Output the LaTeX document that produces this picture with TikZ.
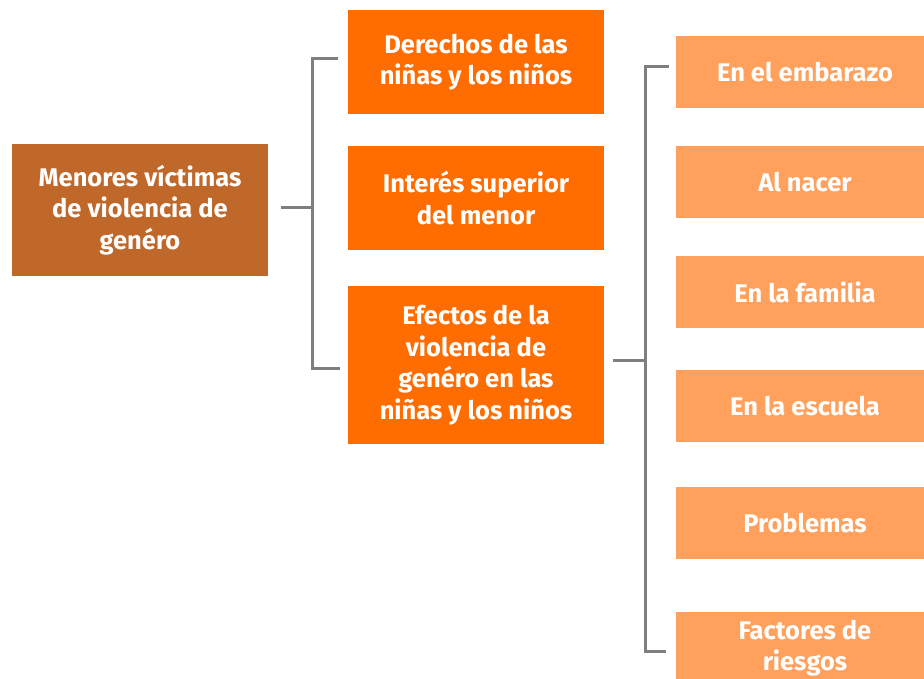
\documentclass[tikz,border=0pt]{standalone}
\usepackage{fontspec}
\setmainfont{Fira Sans}
\usepackage{tikz}
\usetikzlibrary{positioning}
\definecolor{rootbrown}{HTML}{C0672A}
\definecolor{midorange}{HTML}{FF6C00}
\definecolor{leaforange}{HTML}{FFA05C}
\definecolor{linkgray}{HTML}{7F7F7F}

\begin{document}
\begin{tikzpicture}[x=1pt, y=-1pt,
  font=\fontsize{25.5}{31.5}\selectfont\bfseries,
  box/.style={text=white, align=center, inner sep=0pt},
  rootbox/.style={box, fill=rootbrown, minimum width=256pt, minimum height=132pt},
  midbox/.style={box, fill=midorange, minimum width=256pt, minimum height=104pt},
  leafbox/.style={box, fill=leaforange, minimum width=258pt, minimum height=72pt},
  link/.style={draw=linkgray, line width=3pt}]
  \useasboundingbox (0,0) rectangle (924,679);
  \def\colR{140} \def\colM{476} \def\colL{805}
  \node[rootbox] (root) at (\colR,210) {Menores víctimas\\de violencia de\\genéro};
  \node[midbox] (der) at (\colM,62) {Derechos de las\\niñas y los niños};
  \node[midbox] (int) at (\colM,198) {Interés superior\\del menor};
  \node[midbox, minimum height=158pt] (efe) at (\colM,365) {Efectos de la\\violencia de\\genéro en las\\niñas y los niños};
  \foreach \y/\n/\t in {72.5/emb/En el embarazo, 182/nac/Al nacer, 292/fam/En la familia,
      406/esc/En la escuela, 523/pro/Problemas, 648/fac/Factores de\\riesgos} {
    \node[leafbox] (\n) at (\colL,\y) {\t};
  }
  % brackets
  \coordinate (spineA) at (312,208);
  \coordinate (spineB) at (645,360);
  \draw[link] ([xshift=13pt]root.east |- spineA) -- (spineA);
  \draw[link, line cap=rect] ([xshift=-11pt,yshift=3pt]der.west) -| ([yshift=3pt]spineA |- der.west)
    -- ([yshift=-3pt]spineA |- efe.west) -- ([xshift=-9pt,yshift=-3pt]efe.west);
  \draw[link] ([xshift=9pt]efe.east |- spineB) -- (spineB);
  \draw[link, line cap=rect] ([xshift=-8pt,yshift=5.5pt]emb.west) -- ([yshift=5.5pt]spineB |- emb.west)
    -- ([yshift=-3pt]spineB |- fac.west) -- ([xshift=-11pt,yshift=-3pt]fac.west);
\end{tikzpicture}
\end{document}
